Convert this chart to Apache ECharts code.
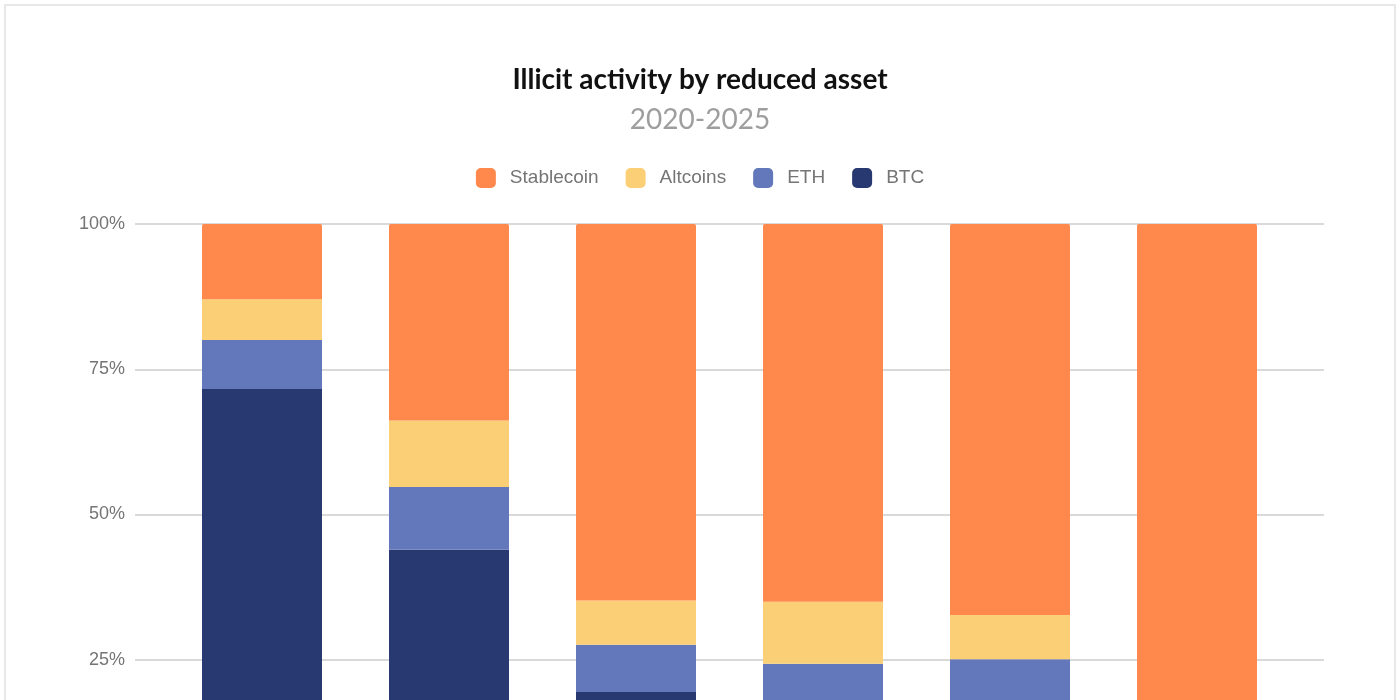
<!DOCTYPE html>
<html>
<head>
<meta charset="utf-8">
<script src="https://cdn.jsdelivr.net/npm/echarts@6/dist/echarts.min.js"></script>
<style>
html,body{margin:0;padding:0;background:#fff;overflow:hidden;}
#chart{width:1400px;height:700px;}
</style>
</head>
<body>
<div id="chart"></div>
<script>
const years = ['2020', '2021', '2022', '2023', '2024', '2025'];
const stablecoin = [12.95, 33.8, 64.8, 65.0, 67.3, 96.0];
const altcoins = [7.0, 11.45, 7.6, 10.7, 7.6, 1.5];
const eth = [8.45, 10.8, 8.15, 13.5, 14.5, 1.0];
const btc = [71.6, 43.95, 19.45, 10.8, 10.6, 1.5];
const yTicks = [0, 25, 50, 75, 100];

const chart = echarts.init(document.getElementById('chart'));
const font = '"Liberation Sans", Arial, sans-serif';
const colors = {Stablecoin: '#FF884D', Altcoins: '#FBCF75', ETH: '#6278BA', BTC: '#283870'};

function bar(name, data, top) {
  return {
    name: name, type: 'bar', stack: 'total', data: data,
    xAxisIndex: 1, yAxisIndex: 1, barWidth: 120,
    itemStyle: {color: colors[name], borderRadius: top ? [2, 2, 0, 0] : 0},
    emphasis: {disabled: true}
  };
}

chart.setOption({
  backgroundColor: '#ffffff',
  animation: false,
  title: [
    {text: 'Illicit activity by reduced asset', left: 'center', top: 61,
     textStyle: {fontFamily: 'Lato, sans-serif', fontWeight: 'bold', fontSize: 28, color: '#111111'}},
    {text: '2020-2025', left: 'center', top: 101,
     textStyle: {fontFamily: 'Lato, sans-serif', fontWeight: 'normal', fontSize: 28, color: '#9e9e9e'}}
  ],
  legend: {
    top: 163, left: 'center',
    data: ['Stablecoin', 'Altcoins', 'ETH', 'BTC'],
    icon: 'roundRect', itemWidth: 20, itemHeight: 20, itemGap: 27,
    textStyle: {fontFamily: font, fontSize: 19, color: '#757575', padding: [0, 0, 0, 9]},
    selectedMode: false
  },
  graphic: [{
    type: 'rect', silent: true, z: 100,
    shape: {x: 5, y: 5, width: 1390, height: 760},
    style: {fill: 'none', stroke: '#e8e8e8', lineWidth: 2}
  }],
  grid: [
    {left: 135, right: 76, top: 224, height: 581, outerBoundsMode: 'none', containLabel: false},
    {left: 168.5, width: 1122, top: 224, height: 581, outerBoundsMode: 'none', containLabel: false}
  ],
  xAxis: [
    {type: 'value', gridIndex: 0, min: 0, max: 1, show: false},
    {type: 'category', gridIndex: 1, data: years,
     axisLine: {show: false}, axisTick: {show: false},
     axisLabel: {fontFamily: font, fontSize: 18, color: '#757575'}}
  ],
  yAxis: [
    {type: 'value', gridIndex: 0, min: yTicks[0], max: yTicks[yTicks.length - 1], interval: 25,
     axisLine: {show: false}, axisTick: {show: false},
     axisLabel: {fontFamily: font, fontSize: 18, color: '#757575', margin: 10,
                 formatter: function (v) { return v + '%'; }},
     splitLine: {lineStyle: {color: '#d9d9d9', width: 2}}},
    {type: 'value', gridIndex: 1, min: 0, max: 100, show: false, splitLine: {show: false}}
  ],
  series: [
    bar('BTC', btc, false),
    bar('ETH', eth, false),
    bar('Altcoins', altcoins, false),
    bar('Stablecoin', stablecoin, true)
  ]
});
</script>
</body>
</html>
